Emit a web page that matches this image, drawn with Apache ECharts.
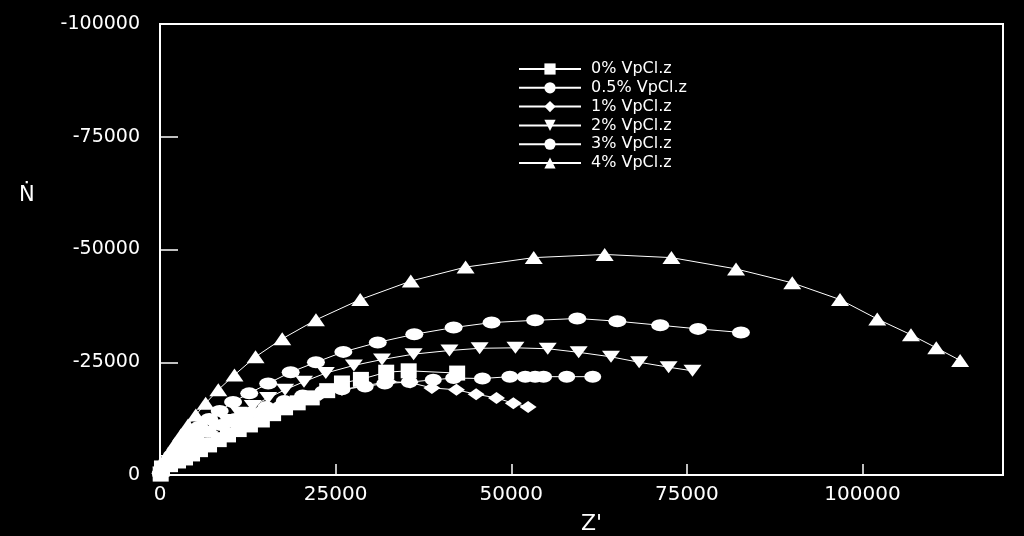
<!DOCTYPE html>
<html>
<head>
<meta charset="utf-8">
<script src="https://cdn.jsdelivr.net/npm/echarts@6/dist/echarts.min.js"></script>
<style>
html,body{margin:0;padding:0;background:#000;}
#c{width:1024px;height:536px;}
</style>
</head>
<body>
<div id="c"></div>
<script>
// Series names (legend)
const seriesNames = ['0% VpCl.z', '0.5% VpCl.z', '1% VpCl.z', '2% VpCl.z', '3% VpCl.z', '4% VpCl.z'];

// Z' values (x) and -Z'' values (y) per series
const x0 = [100, 280, 1420, 2560, 3560, 4560, 5690, 6980, 8360, 9680, 11200, 12800, 14500, 16100, 17800, 19600, 21600, 23800, 25900, 28600, 32200, 35400, 42300];
const y0 = [-200, -1560, -2290, -3110, -3780, -4670, -5620, -6670, -7840, -8890, -10070, -11100, -12200, -13600, -14900, -16000, -17100, -18700, -20400, -21200, -22800, -23100, -22600];

const x05 = [200, 600, 1400, 2400, 3700, 5100, 6800, 8700, 10700, 12800, 15100, 17700, 20300, 23200, 25900, 29200, 32000, 35500, 38900, 41800, 45900, 49800, 52000, 53400, 54600, 57900, 61600];
const y05 = [-400, -2000, -3300, -4900, -6400, -8000, -9600, -11100, -12400, -13800, -15100, -16400, -17600, -18500, -19000, -19600, -20300, -20600, -21100, -21500, -21400, -21800, -21800, -21800, -21800, -21800, -21800];

const x1 = [100, 400, 1100, 2300, 3700, 5300, 7100, 9300, 11500, 14100, 16800, 19600, 22800, 25900, 29200, 32500, 35600, 38700, 42200, 45000, 47900, 50300, 52400];
const y1 = [-800, -2000, -3300, -4900, -6400, -8000, -9600, -11100, -12400, -14000, -15300, -16700, -17800, -18900, -19800, -20700, -20500, -19300, -18900, -17900, -17100, -15900, -15100];

const x2 = [200, 600, 1300, 2300, 3400, 4700, 6100, 7700, 9400, 11200, 13200, 15400, 17800, 20500, 23600, 27600, 31600, 36100, 41200, 45500, 50600, 55200, 59600, 64200, 68200, 72400, 75800];
const y2 = [-500, -1800, -3100, -4700, -6200, -7800, -9300, -10700, -12200, -13800, -15300, -17100, -18900, -20700, -22600, -24300, -25600, -26800, -27600, -28100, -28200, -28000, -27200, -26200, -25000, -23900, -23100];

const x3 = [100, 400, 1000, 1700, 2600, 3400, 4400, 5600, 7000, 8500, 10400, 12700, 15400, 18600, 22200, 26100, 31000, 36200, 41800, 47200, 53400, 59400, 65100, 71200, 76600, 82700];
const y3 = [-400, -1600, -2900, -4400, -6000, -7600, -9100, -10700, -12400, -14200, -16200, -18100, -20300, -22800, -25000, -27300, -29400, -31200, -32700, -33800, -34300, -34700, -34100, -33200, -32400, -31600];

const x4 = [150, 400, 850, 1400, 2100, 3000, 4000, 5100, 6500, 8300, 10600, 13600, 17400, 22200, 28500, 35700, 43500, 53200, 63300, 72800, 82000, 90000, 96800, 102100, 106900, 110500, 113900];
const y4 = [-1100, -2200, -3600, -5100, -6900, -8900, -11100, -13300, -15900, -18900, -22200, -26200, -30200, -34400, -38900, -43000, -46100, -48200, -48900, -48200, -45700, -42600, -38900, -34600, -31100, -28200, -25400];

// Axis tick settings
const xMin = 0, xMax = 120000, xStep = 25000;
const yMin = -100000, yMax = 0, yStep = 25000;

const xs = [x0, x05, x1, x2, x3, x4];
const ys = [y0, y05, y1, y2, y3, y4];
const symbols = ['rect', 'circle', 'diamond', 'path://M0,0 L10,0 L5,8 Z', 'circle', 'triangle'];
const sizes = [[16, 15], [17, 12], [17, 12], [18, 12], [18, 12], [18, 13]];

const FONT = 'DejaVu Sans';
const series = seriesNames.map((name, i) => ({
  name: name,
  type: 'line',
  data: xs[i].map((v, k) => [v, ys[i][k]]),
  symbol: symbols[i],
  symbolSize: sizes[i],
  showAllSymbol: true,
  clip: false,
  lineStyle: { color: '#fff', width: 1 },
  itemStyle: { color: '#fff', borderWidth: 0 },
  emphasis: { disabled: true }
}));

const chart = echarts.init(document.getElementById('c'));
chart.setOption({
  backgroundColor: '#000',
  animation: false,
  grid: { left: 160, right: 21, top: 24, bottom: 61, show: true, borderColor: '#fff', borderWidth: 2, backgroundColor: 'transparent', containLabel: false, outerBoundsMode: 'none' },
  legend: {
    orient: 'vertical',
    left: 513, top: 56,
    itemWidth: 62, itemHeight: 14, itemGap: 2.8,
    textStyle: { color: '#fff', fontFamily: FONT, fontSize: 16, lineHeight: 14, padding: [0, 0, 0, 5] },
    data: seriesNames
  },
  xAxis: {
    type: 'value', min: xMin, max: xMax, interval: xStep,
    position: 'bottom',
    name: "Z'", nameLocation: 'middle', nameGap: 38,
    nameTextStyle: { color: '#fff', fontFamily: FONT, fontSize: 22, padding: [0, 0, 0, 20] },
    axisLine: { onZero: false, lineStyle: { color: '#fff', width: 2 } },
    axisTick: { inside: true, length: 11, lineStyle: { color: '#fff', width: 1.5 } },
    axisLabel: { color: '#fff', fontFamily: FONT, fontSize: 20, margin: 10, showMaxLabel: false, formatter: v => String(v) },
    splitLine: { show: false }
  },
  yAxis: {
    type: 'value', min: yMin, max: yMax, interval: yStep, inverse: true,
    position: 'left',
    axisLine: { onZero: false, lineStyle: { color: '#fff', width: 2 } },
    axisTick: { inside: true, length: 18, lineStyle: { color: '#fff', width: 1.5 } },
    axisLabel: { color: '#fff', fontFamily: FONT, fontSize: 19, margin: 20, formatter: v => String(v) },
    splitLine: { show: false }
  },
  graphic: [{
    type: 'text', left: 19, top: 185,
    style: { text: 'Ṅ', fill: '#fff', font: '21px "DejaVu Sans"' }
  }],
  series: series
});
</script>
</body>
</html>
